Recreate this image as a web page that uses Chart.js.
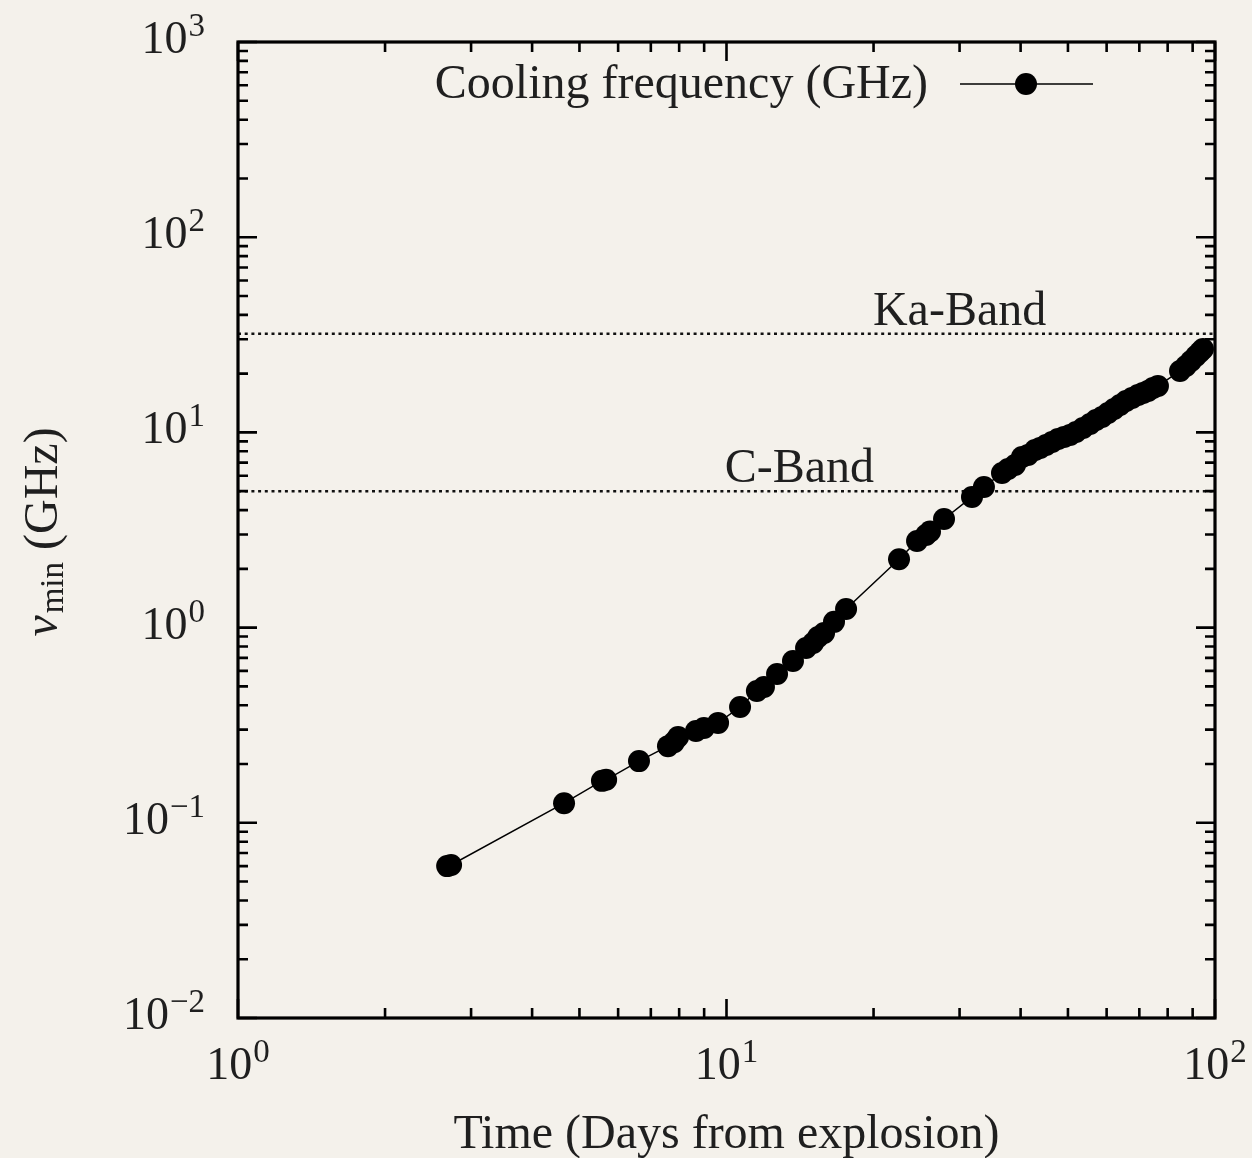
<!DOCTYPE html>
<html>
<head>
<meta charset="utf-8">
<script src="https://cdn.jsdelivr.net/npm/chart.js@4/dist/chart.umd.min.js"></script>
<style>
  html, body { margin: 0; padding: 0; background: #f4f1eb; }
  #wrap { width: 1252px; height: 1158px; }
</style>
</head>
<body>
<div id="wrap"><canvas id="c" width="1252" height="1158"></canvas></div>
<script>
// Time since explosion (days) and minimum / cooling frequency (GHz)
const days = [2.68, 2.73, 4.65, 5.56, 5.67, 6.62, 7.59, 7.81, 7.96, 8.66, 8.99, 9.61, 10.66,
  11.54, 11.93, 12.69, 13.68, 14.55, 15.04, 15.40, 15.84, 16.60, 17.57, 22.55, 24.55, 25.61,
  26.10, 27.88, 31.81, 33.65, 36.64, 37.70, 38.96, 40.26, 41.42, 42.81, 43.84, 45.10, 46.39,
  47.71, 49.08, 50.49, 51.93, 53.68, 55.48, 57.07, 58.71, 60.39, 62.12, 63.90, 65.73, 67.62,
  69.56, 71.22, 72.92, 74.65, 76.42, 84.80, 87.21, 89.32, 91.44, 93.18, 94.49];
const nuMin = [0.0600, 0.0608, 0.126, 0.164, 0.166, 0.207, 0.247, 0.259, 0.275, 0.295, 0.306,
  0.325, 0.392, 0.473, 0.496, 0.578, 0.675, 0.787, 0.834, 0.895, 0.938, 1.07, 1.245, 2.24,
  2.78, 2.98, 3.11, 3.60, 4.67, 5.25, 6.19, 6.49, 6.81, 7.48, 7.66, 8.12, 8.32, 8.62, 8.93,
  9.25, 9.47, 9.70, 10.05, 10.53, 11.04, 11.57, 11.99, 12.57, 13.18, 13.82, 14.49, 15.01,
  15.55, 15.92, 16.30, 16.89, 17.29, 20.63, 21.89, 23.22, 24.63, 25.82, 26.75];

// Observing bands marked as horizontal reference lines
const bandNames = ['Ka-Band', 'C-Band'];
const bandGHz = [32, 5];
const bandLabelDay = [30, 14.1];

// Axis decades and their exponent labels
const xTicks = [1, 10, 100];
const xTickExp = ['0', '1', '2'];
const yTicks = [0.01, 0.1, 1, 10, 100, 1000];
const yTickExp = ['\u22122', '\u22121', '0', '1', '2', '3'];

const seriesLabel = 'Cooling frequency (GHz)';
const xTitle = 'Time (Days from explosion)';

const SERIF = '"Liberation Serif", "DejaVu Serif", serif';
const TEXT = '#1f1f1f';
const LABEL_FONT = '48px ' + SERIF;

function minorValues(lo, hi) {
  const out = [];
  for (let d = lo; d < hi; d *= 10) {
    for (let k = 2; k <= 9; k++) out.push(d * k);
  }
  return out;
}

function drawPower(ctx, x, baseY, exp, align) {
  ctx.font = '46px ' + SERIF;
  const w1 = ctx.measureText('10').width;
  ctx.font = '33px ' + SERIF;
  const w2 = ctx.measureText(exp).width;
  const gap = 1;
  let x0;
  if (align === 'right') x0 = x - w1 - gap - w2;
  else x0 = x - (w1 + gap + w2) / 2;
  ctx.textAlign = 'left';
  ctx.textBaseline = 'alphabetic';
  ctx.fillStyle = TEXT;
  ctx.font = '46px ' + SERIF;
  ctx.fillText('10', x0, baseY);
  ctx.font = '33px ' + SERIF;
  ctx.fillText(exp, x0 + w1 + gap, baseY - 17);
}

const decorations = {
  id: 'decorations',
  beforeDatasetsDraw(chart) {
    const { ctx, chartArea: a, scales: { x, y } } = chart;
    ctx.save();
    ctx.strokeStyle = '#111';
    ctx.lineWidth = 2.5;
    ctx.setLineDash([3, 3.7]);
    bandGHz.forEach((v) => {
      const py = y.getPixelForValue(v);
      ctx.beginPath();
      ctx.moveTo(a.left, py);
      ctx.lineTo(a.right, py);
      ctx.stroke();
    });
    ctx.setLineDash([]);
    ctx.fillStyle = TEXT;
    ctx.font = LABEL_FONT;
    ctx.textAlign = 'center';
    ctx.textBaseline = 'alphabetic';
    bandNames.forEach((name, i) => {
      const px = x.getPixelForValue(bandLabelDay[i]);
      const py = y.getPixelForValue(bandGHz[i]);
      ctx.fillText(name, px, py - 9);
    });
    ctx.restore();
  },
  afterDatasetsDraw(chart) {
    const { ctx, chartArea: a, scales: { x, y } } = chart;
    ctx.save();

    // frame
    ctx.strokeStyle = '#000';
    ctx.lineWidth = 3.2;
    ctx.strokeRect(a.left, a.top, a.right - a.left, a.bottom - a.top);

    // inward ticks on all four sides
    ctx.lineWidth = 2.6;
    const major = 19, minor = 10;
    ctx.beginPath();
    xTicks.forEach(v => {
      const px = x.getPixelForValue(v);
      ctx.moveTo(px, a.bottom); ctx.lineTo(px, a.bottom - major);
      ctx.moveTo(px, a.top); ctx.lineTo(px, a.top + major);
    });
    minorValues(1, 100).forEach(v => {
      const px = x.getPixelForValue(v);
      ctx.moveTo(px, a.bottom); ctx.lineTo(px, a.bottom - minor);
      ctx.moveTo(px, a.top); ctx.lineTo(px, a.top + minor);
    });
    yTicks.forEach(v => {
      const py = y.getPixelForValue(v);
      ctx.moveTo(a.left, py); ctx.lineTo(a.left + major, py);
      ctx.moveTo(a.right, py); ctx.lineTo(a.right - major, py);
    });
    minorValues(0.01, 1000).forEach(v => {
      const py = y.getPixelForValue(v);
      ctx.moveTo(a.left, py); ctx.lineTo(a.left + minor, py);
      ctx.moveTo(a.right, py); ctx.lineTo(a.right - minor, py);
    });
    ctx.stroke();

    // tick labels
    xTicks.forEach((v, i) => drawPower(ctx, x.getPixelForValue(v), a.bottom + 61, xTickExp[i], 'center'));
    yTicks.forEach((v, i) => drawPower(ctx, a.left - 33, y.getPixelForValue(v) + 11, yTickExp[i], 'right'));

    // x title
    ctx.fillStyle = TEXT;
    ctx.font = LABEL_FONT;
    ctx.textAlign = 'center';
    ctx.textBaseline = 'alphabetic';
    ctx.fillText(xTitle, (a.left + a.right) / 2, a.bottom + 130);

    // y title: nu_min (GHz), rotated
    ctx.save();
    ctx.translate(57, 532);
    ctx.rotate(-Math.PI / 2);
    ctx.font = 'italic 48px ' + SERIF;
    const wNu = ctx.measureText('\u03bd').width;
    ctx.font = '33px ' + SERIF;
    const wSub = ctx.measureText('min').width;
    ctx.font = LABEL_FONT;
    const wRest = ctx.measureText(' (GHz)').width;
    let tx = -(wNu + 2 + wSub + wRest) / 2;
    ctx.textAlign = 'left';
    ctx.font = 'italic 48px ' + SERIF;
    ctx.fillText('\u03bd', tx, 0);
    tx += wNu + 2;
    ctx.font = '33px ' + SERIF;
    ctx.fillText('min', tx, 6);
    tx += wSub;
    ctx.font = LABEL_FONT;
    ctx.fillText(' (GHz)', tx, 0);
    ctx.restore();

    // legend
    const ds = chart.data.datasets[0];
    ctx.font = LABEL_FONT;
    ctx.textAlign = 'right';
    ctx.fillStyle = TEXT;
    ctx.fillText(ds.label, 928, 98);
    ctx.strokeStyle = ds.borderColor;
    ctx.lineWidth = ds.borderWidth;
    ctx.beginPath();
    ctx.moveTo(960, 84); ctx.lineTo(1093, 84);
    ctx.stroke();
    ctx.fillStyle = ds.pointBackgroundColor;
    ctx.beginPath();
    ctx.arc(1026, 84, ds.pointRadius, 0, Math.PI * 2);
    ctx.fill();

    ctx.restore();
  }
};

const points = days.map((d, i) => ({ x: d, y: nuMin[i] }));

new Chart(document.getElementById('c'), {
  type: 'scatter',
  data: {
    datasets: [{
      label: seriesLabel,
      data: points,
      showLine: true,
      borderColor: '#000',
      borderWidth: 1.5,
      pointBackgroundColor: '#000',
      pointBorderColor: '#000',
      pointBorderWidth: 0,
      pointRadius: 11,
      pointHoverRadius: 11
    }]
  },
  options: {
    responsive: false,
    animation: false,
    devicePixelRatio: 1,
    layout: { padding: { left: 238, right: 37, top: 42, bottom: 140 } },
    plugins: { legend: { display: false }, tooltip: { enabled: false } },
    events: [],
    scales: {
      x: {
        type: 'logarithmic', min: 1, max: 100,
        ticks: { display: false }, grid: { display: false }, border: { display: false },
        afterFit(s) { s.height = 0; }
      },
      y: {
        type: 'logarithmic', min: 0.01, max: 1000,
        ticks: { display: false }, grid: { display: false }, border: { display: false },
        afterFit(s) { s.width = 0; }
      }
    }
  },
  plugins: [decorations]
});
</script>
</body>
</html>
